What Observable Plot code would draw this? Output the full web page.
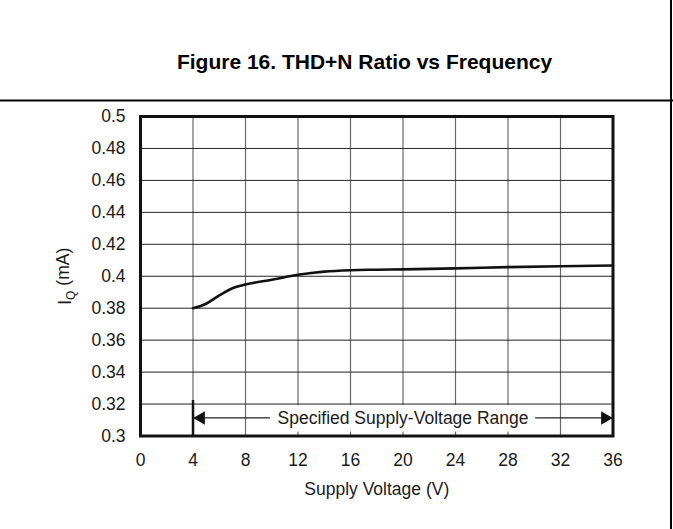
<!DOCTYPE html>
<html>
<head>
<meta charset="utf-8">
<script src="https://cdn.jsdelivr.net/npm/d3@7"></script>
<script src="https://cdn.jsdelivr.net/npm/@observablehq/plot@0.6"></script>
<style>
  body { margin: 0; background: #fff; }
  #wrap { position: relative; width: 673px; height: 529px; overflow: hidden; font-family: "Liberation Sans", Arial, sans-serif; }
  #header { position: absolute; left: 0; top: 0; }
  #chart { position: absolute; left: 0; top: 101px; }
  #chart svg [aria-label$="tick label"] { font-size: 17.5px; }
  #rborder { position: absolute; left: 670px; top: 0; width: 2px; height: 529px; background: #000; }
</style>
</head>
<body>
<div id="wrap">
  <svg id="header" width="673" height="102">
    <text x="364.5" y="68.5" text-anchor="middle" font-family="Liberation Sans, Arial, sans-serif" font-weight="bold" font-size="21" fill="#000">Figure 16. THD+N Ratio vs Frequency</text>
    <line x1="0" x2="673" y1="100.5" y2="100.5" stroke="#000" stroke-width="2"></line>
  </svg>
  <div id="chart"></div>
  <div id="rborder"></div>
</div>
<script>
// ---- Data ----
const title = "Figure 16. THD+N Ratio vs Frequency";
const supplyVoltage = [4, 5, 6, 7, 8, 10, 12, 14, 16, 18, 20, 24, 28, 32, 36];
const iqValues = [0.380, 0.3828, 0.388, 0.3925, 0.3948, 0.3978, 0.4009, 0.4029, 0.4038, 0.4041, 0.4043, 0.4049, 0.4057, 0.4063, 0.4067];
const xTicks = [0, 4, 8, 12, 16, 20, 24, 28, 32, 36];
const xTickLabels = ["0", "4", "8", "12", "16", "20", "24", "28", "32", "36"];
const yTicks = [0.3, 0.32, 0.34, 0.36, 0.38, 0.4, 0.42, 0.44, 0.46, 0.48, 0.5];
const yTickLabels = ["0.3", "0.32", "0.34", "0.36", "0.38", "0.4", "0.42", "0.44", "0.46", "0.48", "0.5"];
const xLabel = "Supply Voltage (V)";
const yLabel = "IQ (mA)";
const rangeStart = 4;
const rangeEnd = 36;
const rangeLabel = "Specified Supply-Voltage Range";
const arrowLevel = 0.3113;
const rangeMarkerTop = 0.3222;
const labelBox = { x1: 9.9, x2: 30.1, y1: 0.3025, y2: 0.319 };

const series = supplyVoltage.map((v, i) => ({ v, iq: iqValues[i] }));
const ink = "#111";

const plot = Plot.plot({
  width: 673,
  height: 428,
  marginLeft: 140,
  marginRight: 60.5,
  marginTop: 15,
  marginBottom: 93.5,
  style: { fontFamily: "Liberation Sans, Arial, sans-serif", fontSize: "17.5px", color: "#1a1a1a", background: "transparent" },
  x: {
    domain: [0, 36],
    ticks: xTicks,
    tickFormat: d => xTickLabels[xTicks.indexOf(d)],
    tickSize: 0,
    tickPadding: 18,
    label: null
  },
  y: {
    domain: [0.3, 0.5],
    ticks: yTicks,
    tickFormat: d => yTickLabels[yTicks.findIndex(t => Math.abs(t - d) < 1e-9)],
    tickSize: 0,
    tickPadding: 15,
    label: null
  },
  marks: [
    Plot.ruleX(xTicks, { stroke: "#6a6a6a", strokeWidth: 1.2, strokeOpacity: 1 }),
    Plot.ruleY(yTicks, { stroke: "#222", strokeWidth: 1, strokeOpacity: 1 }),
    Plot.ruleY([arrowLevel], { x1: rangeStart, x2: rangeEnd, stroke: "#222", strokeWidth: 1.3 }),
    Plot.rect([labelBox], { x1: "x1", x2: "x2", y1: "y1", y2: "y2", fill: "white" }),
    Plot.text([rangeLabel], { x: (rangeStart + rangeEnd) / 2, y: arrowLevel, text: d => d, fontSize: 17.5, fill: "#1a1a1a" }),
    Plot.dot([rangeStart], { x: d => d, y: arrowLevel, symbol: "triangle", r: 5, rotate: -90, dx: 8, fill: ink, stroke: null }),
    Plot.dot([rangeEnd], { x: d => d, y: arrowLevel, symbol: "triangle", r: 5, rotate: 90, dx: -8, fill: ink, stroke: null }),
    Plot.ruleX([rangeStart], { y1: 0.3, y2: rangeMarkerTop, stroke: ink, strokeWidth: 2.5 }),
    Plot.line(series, { x: "v", y: "iq", curve: "monotone-x", stroke: ink, strokeWidth: 2.6 }),
    Plot.frame({ stroke: ink, strokeWidth: 3 }),
    Plot.text([xLabel], { frameAnchor: "bottom", lineAnchor: "middle", dy: 53.5, text: d => d, fontSize: 17.5, fill: "#1a1a1a" }),
    Plot.text([yLabel], { frameAnchor: "left", textAnchor: "middle", lineAnchor: "middle", dx: -75, rotate: -90, text: d => d, fontSize: 17.5, fill: "#1a1a1a" })
  ]
});

document.getElementById("chart").appendChild(plot);

// subscript for I_Q
d3.select(plot).selectAll("text").filter(function () { return this.textContent === yLabel; }).each(function () {
  const t = d3.select(this);
  t.text(null);
  t.append("tspan").text("I");
  t.append("tspan").attr("dy", "0.35em").attr("font-size", "12px").text("Q");
  t.append("tspan").attr("dy", "-0.35em").text(" (mA)");
});
</script>
</body>
</html>
